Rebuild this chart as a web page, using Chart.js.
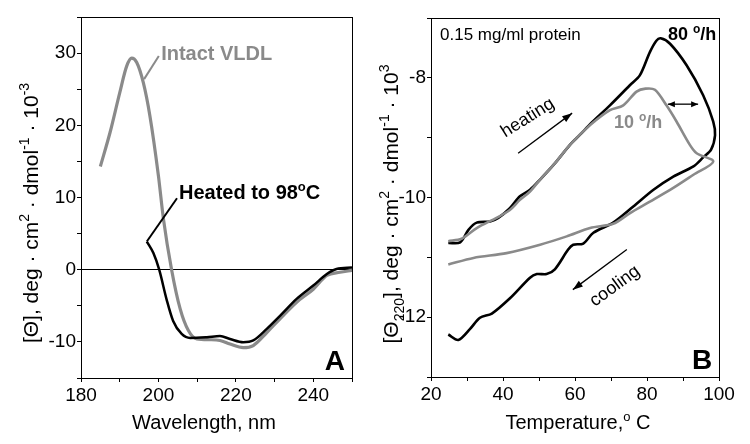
<!DOCTYPE html>
<html>
<head>
<meta charset="utf-8">
<script src="https://cdn.jsdelivr.net/npm/chart.js@4.4.1/dist/chart.umd.min.js"></script>
<style>
  body { margin: 0; background: #fff; }
  #wrap { position: relative; width: 750px; height: 444px; }
  canvas { position: absolute; top: 0; }
</style>
</head>
<body>
<div id="wrap">
  <canvas id="cdChart" width="375" height="444" style="left:0"></canvas>
  <canvas id="meltChart" width="375" height="444" style="left:375px"></canvas>
</div>
<script>
// A: far-UV CD spectra
const wlIntact = [185, 187.5, 190, 191.8, 193.1, 194.4, 196.1, 197.8, 200, 201.3, 203.4, 205.6, 207.7, 209.9, 213.3, 215.9, 218.5, 221.9, 224.5, 228, 231.4, 235.7, 240, 243.5, 246.9, 250];
const cdIntact = [14.3, 19.0, 24.5, 28.2, 29.3, 28.7, 25.9, 21.3, 13.0, 7.0, 0, -5.4, -8.4, -9.6, -9.7, -9.8, -10.3, -10.8, -10.5, -8.7, -6.8, -4.5, -2.7, -0.8, -0.36, -0.1];
const wlHeated = [197, 198.7, 200.2, 202.1, 203.8, 206, 208.2, 212.5, 215.9, 218.5, 221.9, 224.5, 228, 231.4, 235.7, 240, 243.5, 246, 250];
const cdHeated = [3.9, 2.3, 0, -4.1, -7.1, -8.9, -9.45, -9.35, -9.2, -9.6, -10.05, -9.8, -8.2, -6.4, -4.05, -2.2, -0.6, 0.1, 0.3];

// B: [theta]220 vs temperature, 80 deg/h and 10 deg/h scans
const tHeat80 = [24.8, 28.1, 30.4, 32.7, 36.4, 38.7, 41.9, 44.7, 47.5, 50.3, 54.4, 58.6, 61.4, 64.6, 69.7, 75.3, 78, 80.8, 82.6, 83.8, 86.4, 91, 95.6, 98.4, 98.9];
const cdHeat80 = [-10.76, -10.75, -10.54, -10.42, -10.40, -10.34, -10.18, -9.98, -9.87, -9.70, -9.43, -9.12, -8.95, -8.75, -8.46, -8.12, -7.96, -7.57, -7.38, -7.34, -7.43, -7.79, -8.29, -8.73, -8.96];
const tCool80 = [97.8, 95.6, 92.9, 87.3, 81.8, 76.2, 70.6, 65.1, 62.3, 59.5, 58.1, 54.4, 52.1, 49.4, 47.5, 42, 36.9, 33.6, 30.8, 27.6, 24.8];
const cdCool80 = [-9.2, -9.33, -9.48, -9.65, -9.87, -10.15, -10.42, -10.59, -10.77, -10.79, -10.87, -11.2, -11.28, -11.28, -11.34, -11.68, -11.94, -12.01, -12.2, -12.38, -12.29];
const tHeat10 = [24.8, 28.5, 32.7, 38.2, 41.9, 44.7, 47.5, 50.3, 54.4, 58.6, 64.2, 69.7, 73.4, 77.1, 79.6, 82.2, 85.4, 88.2, 91.9, 93.8, 98.4];
const cdHeat10 = [-10.73, -10.69, -10.51, -10.34, -10.21, -10.04, -9.9, -9.70, -9.43, -9.12, -8.79, -8.54, -8.46, -8.23, -8.18, -8.2, -8.46, -8.73, -9.12, -9.26, -9.4];
const tCool10 = [92.9, 87.3, 80.8, 75.3, 70.6, 64.2, 57.7, 50.3, 41, 31.8, 24.8];
const cdCool10 = [-9.62, -9.84, -10.07, -10.26, -10.44, -10.51, -10.65, -10.79, -10.93, -11.01, -11.12];

const FONT = "'Liberation Sans', Arial, sans-serif";
const GRAY = '#8a8a8a';

const pts = (xs, ys) => xs.map((x, i) => ({ x, y: ys[i] }));

function richText(ctx, parts, x, y, o) {
  const size = o.size || 18, weight = o.weight || 'normal';
  ctx.save();
  ctx.translate(x, y);
  if (o.angle) ctx.rotate(o.angle * Math.PI / 180);
  ctx.fillStyle = o.color || '#000';
  ctx.textBaseline = 'alphabetic';
  ctx.textAlign = 'left';
  const fontOf = k => `${weight} ${k ? Math.round(size * 0.65) : size}px ${FONT}`;
  let total = 0;
  const widths = parts.map(([t, k]) => {
    ctx.font = fontOf(k);
    const w = ctx.measureText(t).width;
    total += w;
    return w;
  });
  let cx = o.align === 'center' ? -total / 2 : o.align === 'right' ? -total : 0;
  parts.forEach(([t, k], i) => {
    ctx.font = fontOf(k);
    const dy = k === 'sup' ? -size * 0.42 : k === 'sub' ? size * 0.28 : 0;
    ctx.fillText(t, cx, dy);
    cx += widths[i];
  });
  ctx.restore();
}

function head(ctx, x1, y1, x2, y2, len, wid) {
  const a = Math.atan2(y2 - y1, x2 - x1);
  ctx.beginPath();
  ctx.moveTo(x2, y2);
  ctx.lineTo(x2 - len * Math.cos(a) + wid / 2 * Math.sin(a), y2 - len * Math.sin(a) - wid / 2 * Math.cos(a));
  ctx.lineTo(x2 - len * Math.cos(a) - wid / 2 * Math.sin(a), y2 - len * Math.sin(a) + wid / 2 * Math.cos(a));
  ctx.closePath();
  ctx.fill();
}

function arrow(ctx, x1, y1, x2, y2, both, len, wid) {
  ctx.save();
  ctx.strokeStyle = '#000';
  ctx.fillStyle = '#000';
  ctx.lineWidth = 1.3;
  ctx.beginPath();
  ctx.moveTo(x1, y1);
  ctx.lineTo(x2, y2);
  ctx.stroke();
  head(ctx, x1, y1, x2, y2, len, wid);
  if (both) head(ctx, x2, y2, x1, y1, len, wid);
  ctx.restore();
}

function line(ctx, x1, y1, x2, y2, color, w) {
  ctx.save();
  ctx.strokeStyle = color;
  ctx.lineWidth = w;
  ctx.beginPath();
  ctx.moveTo(x1, y1);
  ctx.lineTo(x2, y2);
  ctx.stroke();
  ctx.restore();
}

function frame(ctx, a) {
  ctx.save();
  ctx.strokeStyle = '#000';
  ctx.lineWidth = 1;
  ctx.strokeRect(Math.round(a.left) + 0.5, Math.round(a.top) + 0.5, Math.round(a.right - a.left), Math.round(a.bottom - a.top));
  ctx.restore();
}

function axes(xMin, xMax, xStep, xLab, yMin, yMax, yStep, yLab, yW, xH, zeroLine) {
  const tick = { color: '#000', font: { family: FONT, size: 19 }, autoSkip: false, maxRotation: 0 };
  return {
    x: {
      type: 'linear', min: xMin, max: xMax,
      ticks: { ...tick, stepSize: xStep, padding: 2, callback: v => (v % xLab === 0 ? v : '') },
      grid: { drawOnChartArea: false, tickLength: 4, tickColor: '#000' },
      border: { color: '#000', width: 1 },
      afterFit: s => { s.height = xH; }
    },
    y: {
      type: 'linear', min: yMin, max: yMax,
      ticks: { ...tick, stepSize: yStep, padding: 1, callback: v => (v % yLab === 0 ? v : '') },
      grid: {
        drawOnChartArea: zeroLine,
        color: c => (c.tick && c.tick.value === 0 ? '#000' : 'rgba(0,0,0,0)'),
        tickLength: 4, tickColor: '#000'
      },
      border: { color: '#000', width: 1 },
      afterFit: s => { s.width = yW; }
    }
  };
}

const panelA = {
  id: 'panelA',
  afterDraw(chart) {
    const { ctx, chartArea, scales: { x, y } } = chart;
    frame(ctx, chartArea);
    richText(ctx, [['[Θ], deg · cm'], ['2', 'sup'], [' · dmol'], ['-1', 'sup'], [' · 10'], ['-3', 'sup']], 38, 213, { size: 21, angle: -90, align: 'center' });
    richText(ctx, [['Wavelength, nm']], 204, 429, { size: 20, align: 'center' });
    // labels with leader lines
    line(ctx, x.getPixelForValue(200.1), y.getPixelForValue(29.6), x.getPixelForValue(196.3), y.getPixelForValue(26.4), GRAY, 2);
    richText(ctx, [['Intact VLDL']], x.getPixelForValue(200.7), y.getPixelForValue(29.1), { size: 20, weight: 'bold', color: GRAY });
    line(ctx, x.getPixelForValue(204.8), y.getPixelForValue(9.9), x.getPixelForValue(197), y.getPixelForValue(3.9), '#000', 2);
    richText(ctx, [['Heated to 98'], ['o', 'sup'], ['C']], x.getPixelForValue(205.3), y.getPixelForValue(9.8), { size: 20, weight: 'bold' });
    richText(ctx, [['A']], x.getPixelForValue(248.2), y.getPixelForValue(-13.9), { size: 28, weight: 'bold', align: 'right' });
  }
};

const panelB = {
  id: 'panelB',
  afterDraw(chart) {
    const { ctx, chartArea, scales: { x, y } } = chart;
    frame(ctx, chartArea);
    richText(ctx, [['[Θ'], ['220', 'sub'], ['], deg · cm'], ['2', 'sup'], [' · dmol'], ['-1', 'sup'], [' · 10'], ['3', 'sup']], 23, 204, { size: 21, angle: -90, align: 'center' });
    richText(ctx, [['Temperature,'], ['o', 'sup'], [' C']], 203, 429, { size: 20, align: 'center' });
    richText(ctx, [['0.15 mg/ml protein']], x.getPixelForValue(22.5), y.getPixelForValue(-7.37), { size: 17 });
    richText(ctx, [['80 '], ['o', 'sup'], ['/h']], x.getPixelForValue(85.8), y.getPixelForValue(-7.37), { size: 18, weight: 'bold' });
    richText(ctx, [['10 '], ['o', 'sup'], ['/h']], x.getPixelForValue(70.8), y.getPixelForValue(-8.84), { size: 18, weight: 'bold', color: GRAY });
    arrow(ctx, x.getPixelForValue(85.8), y.getPixelForValue(-8.44), x.getPixelForValue(94.2), y.getPixelForValue(-8.44), true, 7, 6);
    richText(ctx, [['heating']], x.getPixelForValue(47.6), y.getPixelForValue(-8.74), { size: 18, angle: -32, align: 'center' });
    arrow(ctx, x.getPixelForValue(44.2), y.getPixelForValue(-9.26), x.getPixelForValue(59.2), y.getPixelForValue(-8.59), false, 10, 7);
    richText(ctx, [['cooling']], x.getPixelForValue(71.9), y.getPixelForValue(-11.55), { size: 18, angle: -36, align: 'center' });
    arrow(ctx, x.getPixelForValue(74.4), y.getPixelForValue(-10.87), x.getPixelForValue(59.4), y.getPixelForValue(-11.54), false, 10, 7);
    richText(ctx, [['B']], x.getPixelForValue(98.1), y.getPixelForValue(-12.87), { size: 28, weight: 'bold', align: 'right' });
  }
};

const common = {
  responsive: false,
  animation: false,
  events: [],
  plugins: { legend: { display: false }, tooltip: { enabled: false } },
  elements: { point: { radius: 0 } }
};

new Chart(document.getElementById('cdChart'), {
  type: 'scatter',
  data: {
    datasets: [
      { label: 'Heated to 98°C', data: pts(wlHeated, cdHeated), showLine: true, borderColor: '#000', borderWidth: 2.5, cubicInterpolationMode: 'monotone', order: 0 },
      { label: 'Intact VLDL', data: pts(wlIntact, cdIntact), showLine: true, borderColor: GRAY, borderWidth: 3.2, cubicInterpolationMode: 'monotone', order: 1 }
    ]
  },
  options: {
    ...common,
    layout: { padding: { left: 0, top: 17, right: 23, bottom: 0 } },
    scales: axes(180, 250, 10, 20, -15, 35, 5, 10, 81, 66, true)
  },
  plugins: [panelA]
});

new Chart(document.getElementById('meltChart'), {
  type: 'scatter',
  data: {
    datasets: [
      { label: '10 °/h', data: pts(tHeat10.concat(tCool10), cdHeat10.concat(cdCool10)), showLine: true, borderColor: GRAY, borderWidth: 2.6, tension: 0.3, order: 0 },
      { label: '80 °/h', data: pts(tHeat80.concat(tCool80), cdHeat80.concat(cdCool80)), showLine: true, borderColor: '#000', borderWidth: 2.6, tension: 0.3, order: 1 }
    ]
  },
  options: {
    ...common,
    layout: { padding: { left: 0, top: 18, right: 31, bottom: 0 } },
    scales: axes(20, 100, 10, 20, -13, -7, 1, 2, 56, 67, false)
  },
  plugins: [panelB]
});
</script>
</body>
</html>
